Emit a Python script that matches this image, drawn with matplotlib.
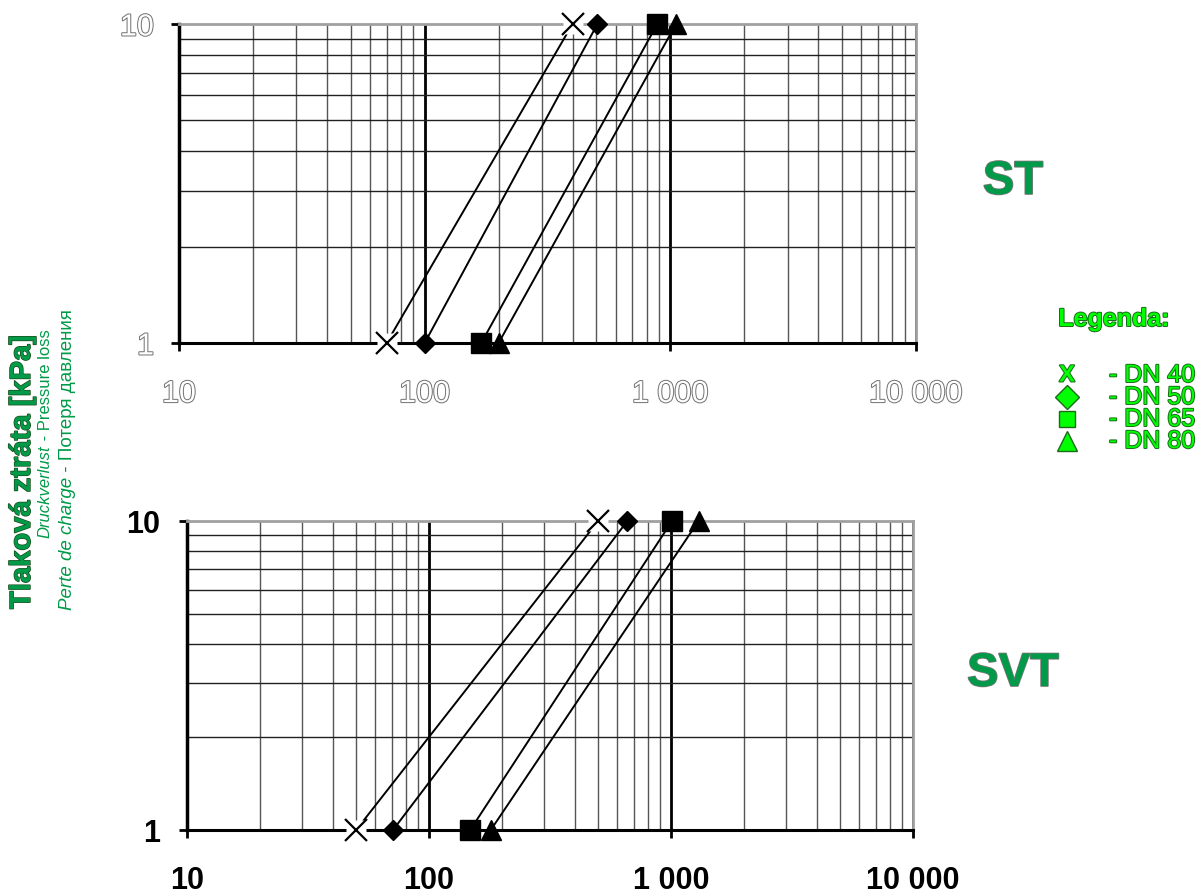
import matplotlib
matplotlib.use('Agg')
import matplotlib.pyplot as plt
import matplotlib.patheffects as pe
from matplotlib.ticker import FixedLocator, LogLocator, NullFormatter

# ---------------- data ----------------
x_tick_values = [10, 100, 1000, 10000]
x_tick_labels = ['10', '100', '1 000', '10 000']
y_tick_values = [1, 10]
y_tick_labels = ['1', '10']

series_names = ['DN 40', 'DN 50', 'DN 65', 'DN 80']
pressure_kpa = [1, 10]

# ST: flow values at 1 kPa and 10 kPa
st_dn40 = [70, 400]
st_dn50 = [100, 505]
st_dn65 = [170, 885]
st_dn80 = [200, 1055]

# SVT
svt_dn40 = [50, 500]
svt_dn50 = [71, 660]
svt_dn65 = [148, 1010]
svt_dn80 = [180, 1300]

markers = ['x', 'D', 's', '^']
marker_sizes = [16, 10, 14, 15]

GREEN_DARK = '#009a48'
LIGHT_GREEN = '#00ff00'

fig = plt.figure(figsize=(12.03, 8.95), dpi=100)
W, H = 1203, 895

def make_ax(l, r, t, b):
    return fig.add_axes([l / W, 1 - b / H, (r - l) / W, (b - t) / H])

ax1 = make_ax(179, 916, 25, 344)
ax2 = make_ax(187, 913, 522, 831)

outline = [pe.Stroke(linewidth=1.4, foreground='#707070'), pe.Normal()]

def style(ax, hollow):
    ax.set_xscale('log')
    ax.set_yscale('log')
    ax.set_xlim(10, 10000)
    ax.set_ylim(1, 10)
    ax.xaxis.set_major_locator(FixedLocator(x_tick_values))
    ax.yaxis.set_major_locator(FixedLocator(y_tick_values))
    ax.xaxis.set_minor_locator(LogLocator(base=10, subs=range(2, 10)))
    ax.yaxis.set_minor_locator(LogLocator(base=10, subs=range(2, 10)))
    ax.xaxis.set_minor_formatter(NullFormatter())
    ax.yaxis.set_minor_formatter(NullFormatter())
    ax.set_xticklabels(x_tick_labels)
    ax.set_yticklabels(y_tick_labels)
    ax.grid(which='minor', axis='x', color='#555555', lw=1.0)
    ax.grid(which='major', axis='x', color='black', lw=2.0)
    ax.grid(which='minor', axis='y', color='#202020', lw=1.0)
    ax.set_axisbelow(True)
    ax.tick_params(which='minor', length=0)
    ax.tick_params(which='major', length=6, width=2, color='black', direction='out')
    for s in ['top', 'right']:
        ax.spines[s].set_color('#a0a0a0')
        ax.spines[s].set_linewidth(2)
    ax.spines['left'].set_linewidth(2.5)
    ax.spines['bottom'].set_linewidth(2.2)
    if hollow:
        ax.tick_params(axis='x', pad=20)
        ax.tick_params(axis='y', pad=12)
        for lab in ax.get_xticklabels() + ax.get_yticklabels():
            lab.set_fontfamily('Liberation Sans')
            lab.set_fontsize(22)
            lab.set_color('white')
            lab.set_path_effects(outline)
    else:
        ax.tick_params(axis='x', pad=19)
        ax.tick_params(axis='y', pad=13)
        for lab in ax.get_xticklabels() + ax.get_yticklabels():
            lab.set_fontfamily('Liberation Sans')
            lab.set_fontsize(22)
            lab.set_fontweight('bold')
            lab.set_color('black')

def draw(ax, data):
    for flows, m, ms in zip(data, markers, marker_sizes):
        ax.plot(flows, pressure_kpa, color='black', lw=1.4, zorder=3, clip_on=False)
        if m == 'x':
            ax.plot(flows, pressure_kpa, ls='none', marker='s', ms=ms - 1, mfc='white',
                    mec='none', zorder=4, clip_on=False)
            ax.plot(flows, pressure_kpa, ls='none', marker='x', ms=ms, mew=1.6,
                    color='black', zorder=5, clip_on=False)
        else:
            ax.plot(flows, pressure_kpa, ls='none', marker=m, ms=ms, mfc='black',
                    mec='black', zorder=5, clip_on=False)

style(ax1, True)
style(ax2, False)
draw(ax1, [st_dn40, st_dn50, st_dn65, st_dn80])
draw(ax2, [svt_dn40, svt_dn50, svt_dn65, svt_dn80])

# chart names
shadow_txt = [pe.Stroke(linewidth=1.2, foreground='#777777'), pe.Normal()]
fig.text(1013 / W, 1 - 183 / H, 'ST', fontsize=34, fontweight='bold', color=GREEN_DARK,
         family='Liberation Sans', ha='center', va='center', path_effects=shadow_txt)
fig.text(1013 / W, 1 - 675 / H, 'SVT', fontsize=34, fontweight='bold', color=GREEN_DARK,
         family='Liberation Sans', ha='center', va='center', path_effects=shadow_txt)

# legend
leg_outline = [pe.Stroke(linewidth=1.4, foreground='#1a6a1a'), pe.Normal()]
fig.text(1114 / W, 1 - 320 / H, 'Legenda:', fontsize=18, fontweight='bold', color=LIGHT_GREEN,
         family='Liberation Sans', ha='center', va='center', path_effects=leg_outline)
leg_y = [376, 398, 420, 442]
for i, (name, yy) in enumerate(zip(series_names, leg_y)):
    fig.text(1109 / W, 1 - yy / H, '- ' + name, fontsize=18, color=LIGHT_GREEN,
             family='Liberation Sans', ha='left', va='center', path_effects=leg_outline)
    if i == 0:
        fig.text(1067 / W, 1 - yy / H, 'X', fontsize=17, fontweight='bold', color=LIGHT_GREEN,
                 family='Liberation Sans', ha='center', va='center', path_effects=leg_outline)
    else:
        mk = markers[i]
        sz = [0, 12, 11, 14][i]
        fig.lines.append(plt.Line2D([1067 / W], [1 - yy / H], transform=fig.transFigure,
                                    marker=mk, ms=sz, mfc=LIGHT_GREEN, mec='#1a6a1a',
                                    mew=1.0, ls='none'))

# y axis label (three lines, rotated)
fig.text(22 / W, 1 - 610 / H, 'Tlaková ztráta [kPa]', rotation=90, fontsize=21,
         fontweight='bold', color=GREEN_DARK, family='Liberation Sans',
         ha='center', va='bottom',
         path_effects=[pe.Stroke(linewidth=1.0, foreground='#1a4a1a'), pe.Normal()])
t2a = fig.text(45 / W, 1 - 538 / H, 'Druckverlust', rotation=90, fontsize=12,
               style='italic', color=GREEN_DARK, family='Liberation Sans',
               ha='center', va='bottom')
fig.add_artist(plt.Annotation(' - Pressure loss', xy=(0.5, 1.0), xycoords=t2a, rotation=90,
                              fontsize=12, color=GREEN_DARK, family='Liberation Sans',
                              ha='center', va='bottom', annotation_clip=False))
t3a = fig.text(67 / W, 1 - 610 / H, 'Perte de charge', rotation=90, fontsize=13.5,
               style='italic', color=GREEN_DARK, family='Liberation Sans',
               ha='center', va='bottom')
fig.add_artist(plt.Annotation(' - Потеря давления', xy=(0.5, 1.0), xycoords=t3a, rotation=90,
                              fontsize=13.5, color=GREEN_DARK, family='Liberation Sans',
                              ha='center', va='bottom', annotation_clip=False))

fig.savefig('out.png', dpi=100)
